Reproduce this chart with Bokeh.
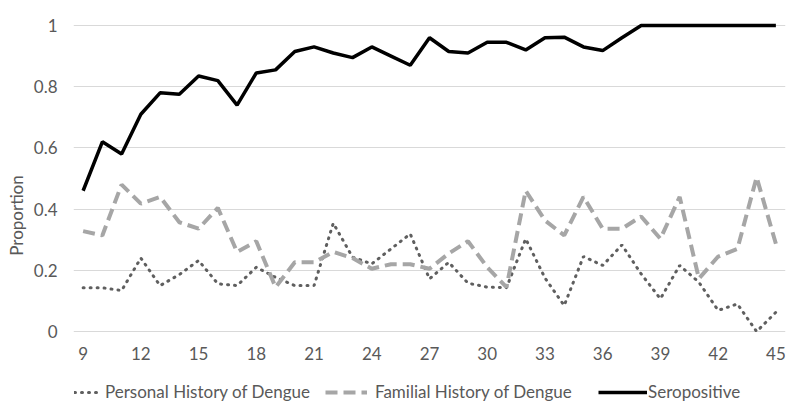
from bokeh.plotting import figure
from bokeh.models import Range1d, Legend, LegendItem, FixedTicker
from bokeh.embed import file_html
from bokeh.resources import INLINE

ages = list(range(9, 46))
seropositive = [0.46, 0.62, 0.58, 0.71, 0.78, 0.775, 0.835, 0.82, 0.74, 0.845,
                0.855, 0.915, 0.93, 0.91, 0.895, 0.93, 0.90, 0.87, 0.96, 0.915,
                0.91, 0.945, 0.945, 0.92, 0.96, 0.962, 0.93, 0.918, 0.96, 1.0,
                1.0, 1.0, 1.0, 1.0, 1.0, 1.0, 1.0]
familial = [0.328, 0.314, 0.48, 0.418, 0.44, 0.357, 0.336, 0.404, 0.26, 0.295,
            0.145, 0.226, 0.226, 0.26, 0.24, 0.205, 0.22, 0.22, 0.205, 0.255,
            0.295, 0.21, 0.145, 0.46, 0.363, 0.314, 0.44, 0.336, 0.336, 0.376,
            0.303, 0.44, 0.173, 0.245, 0.27, 0.504, 0.287]
personal = [0.143, 0.143, 0.134, 0.24, 0.15, 0.186, 0.232, 0.156, 0.15, 0.21,
            0.177, 0.15, 0.15, 0.354, 0.243, 0.221, 0.27, 0.319, 0.172, 0.226,
            0.158, 0.145, 0.143, 0.303, 0.175, 0.085, 0.245, 0.216, 0.283, 0.188,
            0.107, 0.216, 0.161, 0.069, 0.09, 0.0, 0.063]
series_names = ["Personal History of Dengue", "Familial History of Dengue", "Seropositive"]
x_ticks = list(range(9, 46, 3))
y_ticks = [0, 0.2, 0.4, 0.6, 0.8, 1.0]

FONT = "Lato"
TXT = "#595959"

p = figure(frame_width=712, frame_height=386, output_backend="svg", toolbar_location=None,
           x_range=Range1d(8.5, 45.5), y_range=Range1d(-0.2516, 1.0098))
p.min_border_left = 73
p.min_border_right = 10
p.min_border_top = 22
p.min_border_bottom = 0
p.outline_line_color = None

p.xgrid.grid_line_color = None
p.ygrid.grid_line_color = "#d9d9d9"
p.ygrid.grid_line_width = 1.2
p.ygrid.ticker = FixedTicker(ticks=y_ticks)

p.xaxis.ticker = FixedTicker(ticks=x_ticks)
p.xaxis.fixed_location = 0
p.yaxis.ticker = FixedTicker(ticks=y_ticks)
p.yaxis.major_label_overrides = {0: "0", 0.2: "0.2", 0.4: "0.4", 0.6: "0.6", 0.8: "0.8", 1.0: "1"}
for ax in (p.xaxis[0], p.yaxis[0]):
    ax.axis_line_color = None
    ax.major_tick_line_color = None
    ax.minor_tick_line_color = None
    ax.major_tick_in = 0
    ax.major_tick_out = 0
    ax.minor_tick_in = 0
    ax.minor_tick_out = 0
    ax.major_label_text_font = FONT
    ax.major_label_text_font_size = "17px"
    ax.major_label_text_color = TXT
p.xaxis.major_label_standoff = 15
p.yaxis.major_label_standoff = 16
p.yaxis.axis_label = "Proportion"
p.yaxis.axis_label_text_font = FONT
p.yaxis.axis_label_text_font_size = "17px"
p.yaxis.axis_label_text_font_style = "normal"
p.yaxis.axis_label_text_color = TXT
p.yaxis.axis_label_standoff = 4

r1 = p.line(ages, personal, line_color="#5f5f5f", line_width=3,
            line_dash="1 6", line_cap="round")
r2 = p.line(ages, familial, line_color="#a6a6a6", line_width=4,
            line_dash="12 6")
r3 = p.line(ages, seropositive, line_color="#000000", line_width=3.5)

# (renderer, x offset from frame left, glyph width, label standoff)
leg_specs = [(r1, 1, 27, 4), (r2, 252, 42, 8), (r3, 525, 49, 1)]
for name, (rend, lx, gw, st) in zip(series_names, leg_specs):
    lg = Legend(items=[LegendItem(label=name, renderers=[rend])],
                location=(lx, 6), orientation="horizontal")
    lg.label_text_font = FONT
    lg.label_text_font_size = "17px"
    lg.label_text_color = TXT
    lg.border_line_color = None
    lg.background_fill_alpha = 0
    lg.glyph_width = gw
    lg.glyph_height = 20
    lg.label_standoff = st
    lg.padding = 0
    lg.margin = 0
    p.add_layout(lg)

open("out.html", "w").write(file_html(p, INLINE))
